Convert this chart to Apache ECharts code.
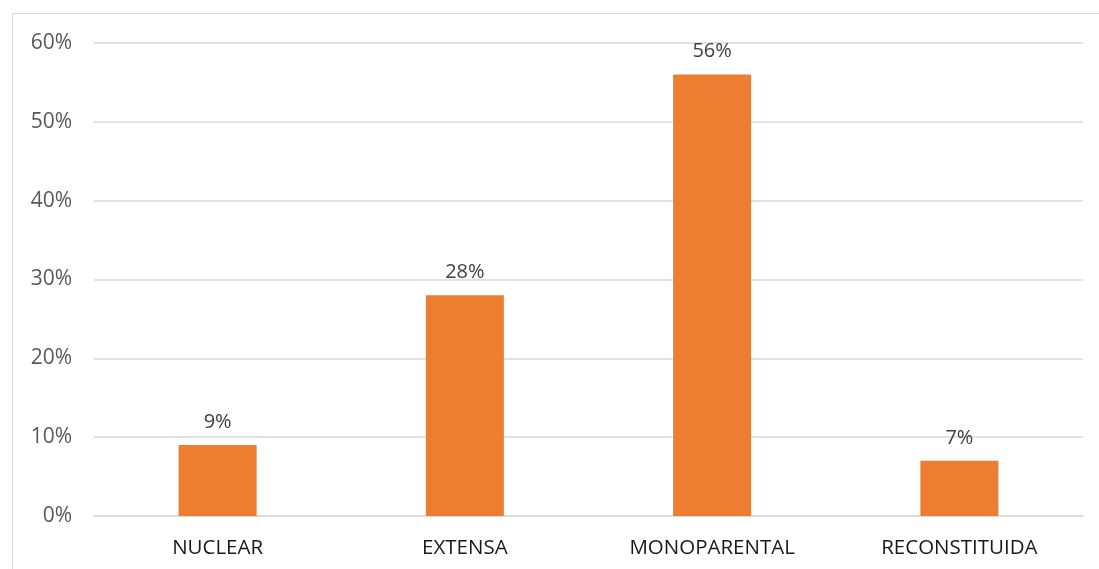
<!DOCTYPE html>
<html>
<head>
<meta charset="utf-8">
<script src="https://cdn.jsdelivr.net/npm/echarts@6/dist/echarts.min.js"></script>
<style>
html,body{margin:0;padding:0;background:#fff;overflow:hidden;}
#wrap{position:relative;width:1099px;height:569px;}
#frame{position:absolute;left:12px;top:13px;right:0;bottom:0;border-left:1.5px solid #d9d9d9;border-top:1.5px solid #d9d9d9;}
#c{position:absolute;left:0;top:0;width:1099px;height:569px;}
</style>
</head>
<body>
<div id="wrap"><div id="frame"></div><div id="c"></div></div>
<script>
const categories = ['NUCLEAR', 'EXTENSA', 'MONOPARENTAL', 'RECONSTITUIDA'];
const values = [9, 28, 56, 7];
const yTicks = [0, 10, 20, 30, 40, 50, 60];

const chart = echarts.init(document.getElementById('c'));
chart.setOption({
  animation: false,
  grid: { left: 94, right: 16, top: 43, bottom: 53, containLabel: false },
  xAxis: {
    type: 'category',
    data: categories,
    axisLine: { lineStyle: { color: '#d9d9d9', width: 1.5 } },
    axisTick: { show: false },
    axisLabel: { color: '#1a1a1a', fontFamily: 'Open Sans', fontSize: 20.5, margin: 22 }
  },
  yAxis: {
    type: 'value',
    min: yTicks[0],
    max: yTicks[yTicks.length - 1],
    interval: 10,
    axisLine: { show: false },
    axisTick: { show: false },
    splitLine: { lineStyle: { color: '#d9d9d9', width: 1.5 } },
    axisLabel: { color: '#595959', fontFamily: 'Open Sans', fontSize: 21, margin: 22, formatter: '{value}%' }
  },
  series: [{
    type: 'bar',
    data: values,
    barWidth: 78,
    itemStyle: { color: '#ED7D31' },
    label: {
      show: true,
      position: 'top',
      distance: 13,
      color: '#404040',
      fontFamily: 'Open Sans',
      fontSize: 20,
      formatter: '{c}%'
    }
  }]
});
</script>
</body>
</html>
